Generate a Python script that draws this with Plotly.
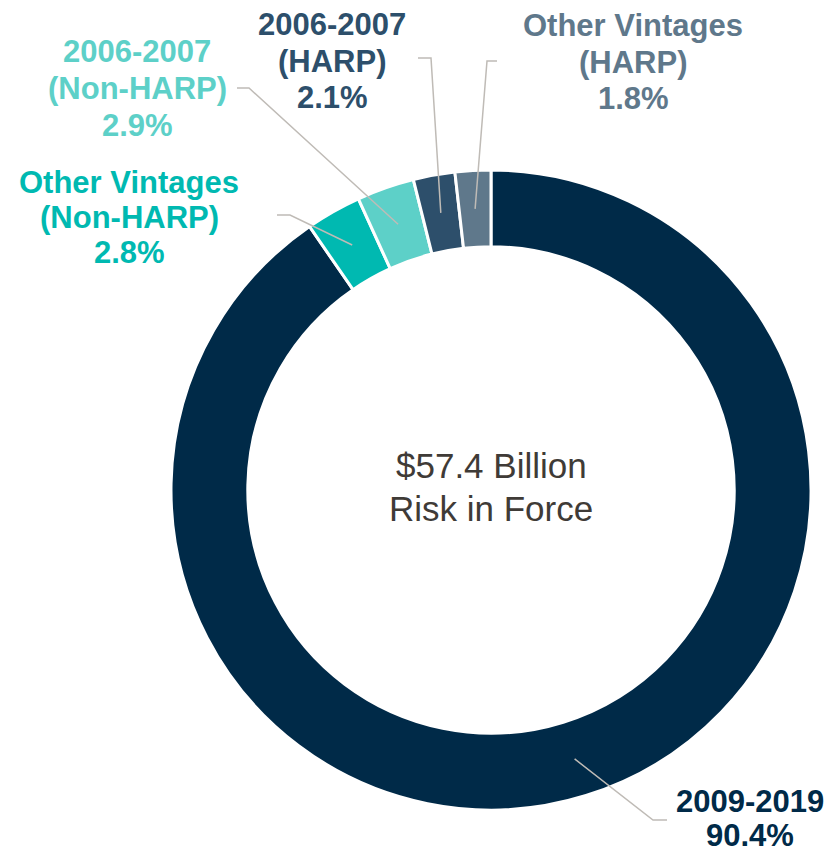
import math
import plotly.graph_objects as go

# ---- data ----
categories = ["2009-2019", "Other Vintages (Non-HARP)", "2006-2007 (Non-HARP)",
              "2006-2007 (HARP)", "Other Vintages (HARP)"]
label_lines = [["2009-2019"], ["Other Vintages", "(Non-HARP)"], ["2006-2007", "(Non-HARP)"],
               ["2006-2007", "(HARP)"], ["Other Vintages", "(HARP)"]]
values = [90.4, 2.8, 2.9, 2.1, 1.8]
center_text = ["$57.4 Billion", "Risk in Force"]

# ---- style ----
colors = ["#002A48", "#00B9B1", "#5DD0C8", "#2D4F6B", "#5F788B"]
W, H = 833, 854
cx, cy, R = 491, 490, 320
hole = 0.76
r_anchor = R * (1 + hole) / 2
line_color = "#BFBBB6"

# label layout (pixel positions): line centers, leader elbow and end
label_pos = [
    dict(x=750, ys=[801, 835], elbow=(653, 820), end=(667, 820)),
    dict(x=129, ys=[182, 217, 252], elbow=(290, 215), end=(277, 215)),
    dict(x=137, ys=[51, 88, 125], elbow=(249, 88), end=(237, 88)),
    dict(x=332, ys=[24, 61, 97], elbow=(431, 58), end=(418, 58)),
    dict(x=633, ys=[25, 62, 98], elbow=(487, 61), end=(497, 61)),
]

fig = go.Figure()
fig.add_trace(go.Pie(
    labels=categories, values=values, sort=False, direction="clockwise", rotation=0,
    hole=hole, textinfo="none", hoverinfo="label+percent",
    marker=dict(colors=colors, line=dict(color="white", width=3)),
    domain=dict(x=[(cx - R) / W, (cx + R) / W],
                y=[(H - cy - R) / H, (H - cy + R) / H]),
    showlegend=False,
))

total = sum(values)
cum = 0.0
shapes = []
annotations = []
for i, v in enumerate(values):
    mid = (cum + v / 2) / total * 2 * math.pi
    cum += v
    ax = cx + r_anchor * math.sin(mid)
    ay = cy - r_anchor * math.cos(mid)
    lp = label_pos[i]
    ex, ey = lp["elbow"]
    tx, ty = lp["end"]
    shapes.append(dict(type="path", xref="x", yref="y", layer="above",
                       path=f"M {ax:.1f},{ay:.1f} L {ex},{ey} L {tx},{ty}",
                       line=dict(color=line_color, width=1.5)))
    lines = label_lines[i] + [f"{v:.1f}%"]
    for txt, yy in zip(lines, lp["ys"]):
        annotations.append(dict(x=lp["x"], y=yy, xref="x", yref="y", text=f"<b>{txt}</b>",
                                showarrow=False, xanchor="center", yanchor="middle",
                                borderpad=0,
                                font=dict(family="Liberation Sans, Arial, sans-serif",
                                          size=31, color=colors[i])))

for txt, yy in zip(center_text, [465, 508]):
    annotations.append(dict(x=cx, y=yy, xref="x", yref="y", text=txt, showarrow=False,
                            xanchor="center", yanchor="middle",
                            font=dict(family="Liberation Sans, Arial, sans-serif",
                                      size=35, color="#3F3B37")))

fig.update_layout(
    width=W, height=H, margin=dict(l=0, r=0, t=0, b=0),
    paper_bgcolor="white", plot_bgcolor="rgba(0,0,0,0)",
    xaxis=dict(range=[0, W], visible=False, fixedrange=True),
    yaxis=dict(range=[H, 0], visible=False, fixedrange=True),
    shapes=shapes, annotations=annotations,
)
fig.write_html("out.html",
               post_script="document.body.style.margin='0';document.body.style.padding='0';",
               config={"displayModeBar": False})
